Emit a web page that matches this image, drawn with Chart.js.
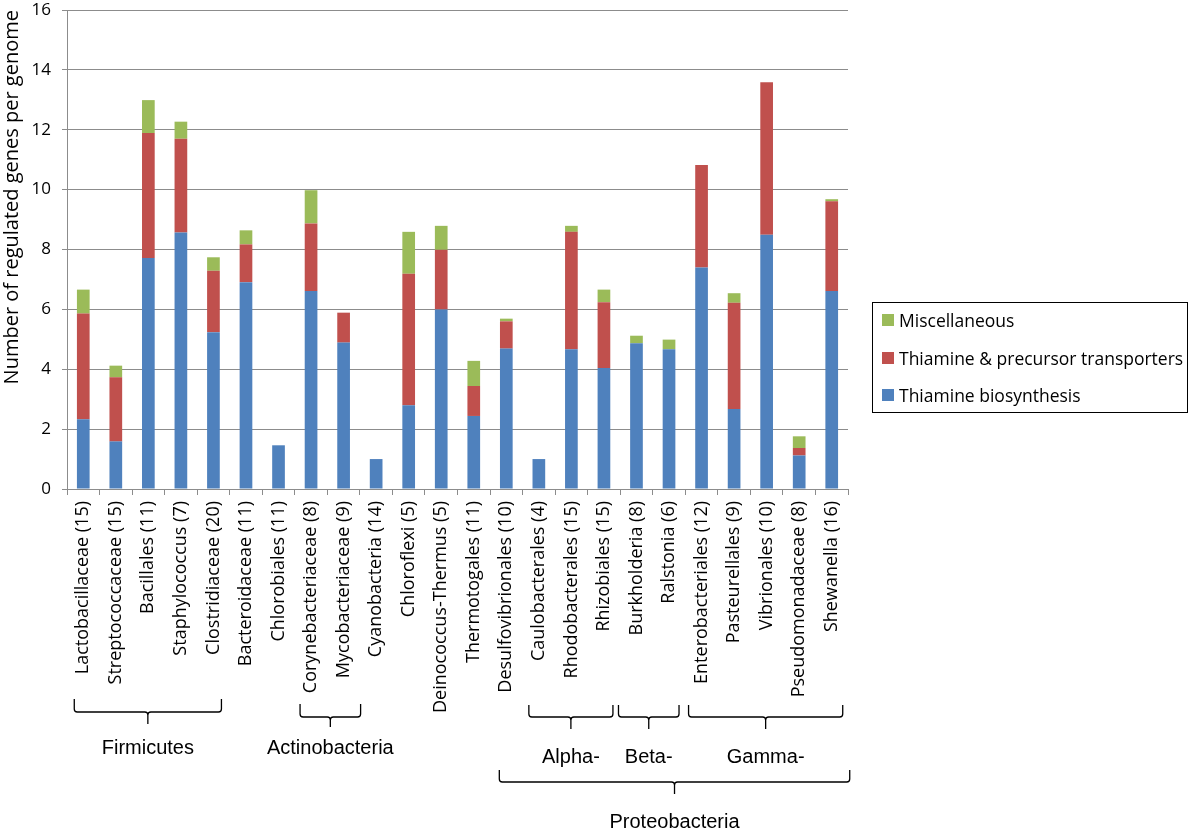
<!DOCTYPE html>
<html>
<head>
<meta charset="utf-8">
<script src="https://cdn.jsdelivr.net/npm/chart.js@4.4.0/dist/chart.umd.min.js"></script>
<style>
  body { margin: 0; background: #fff; }
  #wrap { position: relative; width: 1200px; height: 832px; }
  #legend {
    position: absolute; left: 872px; top: 302px; width: 316px; height: 111px;
    border: 1px solid #000; font-family: "Open Sans", sans-serif; font-size: 17.5px; color: #000;
    box-sizing: border-box;
  }
  #legend .item { position: absolute; left: 9px; display: flex; align-items: center; white-space: nowrap; }
  #legend .sw { width: 12px; height: 12px; margin-right: 5px; }
</style>
</head>
<body>
<div id="wrap">
  <canvas id="chart" width="1200" height="832"></canvas>
  <div id="legend"></div>
</div>
<script>
const categories = [
  'Lactobacillaceae (15)', 'Streptococcaceae (15)', 'Bacillales (11)', 'Staphylococcus (7)',
  'Clostridiaceae (20)', 'Bacteroidaceae (11)', 'Chlorobiales (11)', 'Corynebacteriaceae (8)',
  'Mycobacteriaceae (9)', 'Cyanobacteria (14)', 'Chloroflexi (5)', 'Deinococcus-Thermus (5)',
  'Thermotogales (11)', 'Desulfovibrionales (10)', 'Caulobacterales (4)', 'Rhodobacterales (15)',
  'Rhizobiales (15)', 'Burkholderia (8)', 'Ralstonia (6)', 'Enterobacteriales (12)',
  'Pasteurellales (9)', 'Vibrionales (10)', 'Pseudomonadaceae (8)', 'Shewanella (16)'
];

const biosynthesis = [2.33, 1.59, 7.72, 8.57, 5.24, 6.91, 1.46, 6.61, 4.89, 1.0, 2.8, 6.0,
  2.44, 4.69, 1.0, 4.67, 4.04, 4.87, 4.67, 7.4, 2.67, 8.49, 1.12, 6.61];
const transporters = [3.53, 2.14, 4.17, 3.13, 2.05, 1.26, 0, 2.26, 1.0, 0, 4.39, 1.99,
  1.0, 0.91, 0, 3.92, 2.2, 0, 0, 3.42, 3.55, 5.1, 0.25, 3.0];
const miscellaneous = [0.8, 0.39, 1.1, 0.57, 0.45, 0.47, 0, 1.11, 0, 0, 1.4, 0.8,
  0.84, 0.09, 0, 0.2, 0.42, 0.25, 0.32, 0, 0.32, 0, 0.39, 0.07];

const yTicks = [0, 2, 4, 6, 8, 10, 12, 14, 16];

// taxonomic groups shown with braces under the category labels
const groupNames = ['Firmicutes', 'Actinobacteria', 'Alpha-', 'Beta-', 'Gamma-', 'Proteobacteria'];
const groupFirst = [0, 7, 14, 17, 19, 13];
const groupLast = [4, 8, 16, 18, 23, 23];

const colors = { bio: '#4F81BD', trans: '#C0504D', misc: '#9BBB59' };
const gridColor = '#8C8C8C';
const labelFont = '"Open Sans"';

// brace geometry: [padLeft, padRight, top, bar, tip, textY]
const braceStyle = [
  [9, 8, 699, 712, 724, 748],
  [11, 17, 704, 717, 727, 748],
  [10, 9, 705, 717, 729, 757],
  [18, 10, 705, 717, 729, 757],
  [13, 11, 705, 717, 729, 757],
  [7, 18, 770, 782, 794, 822]
];

const bracesPlugin = {
  id: 'braces',
  afterDraw(chart) {
    const ctx = chart.ctx;
    const x = chart.scales.x;
    ctx.save();
    ctx.strokeStyle = '#000';
    ctx.lineWidth = 1.3;
    ctx.fillStyle = '#000';
    ctx.font = '20px "Liberation Sans", Arial, sans-serif';
    ctx.textAlign = 'center';
    ctx.textBaseline = 'middle';
    groupNames.forEach((name, i) => {
      const s = braceStyle[i];
      const x0 = x.getPixelForValue(groupFirst[i]) - s[0];
      const x1 = x.getPixelForValue(groupLast[i]) + s[1];
      const xm = (x0 + x1) / 2;
      const r = 3;
      ctx.beginPath();
      ctx.moveTo(x0, s[2]);
      ctx.lineTo(x0, s[3] - r);
      ctx.quadraticCurveTo(x0, s[3], x0 + r, s[3]);
      ctx.lineTo(xm - r, s[3]);
      ctx.quadraticCurveTo(xm, s[3], xm, s[3] + r);
      ctx.lineTo(xm, s[4]);
      ctx.moveTo(xm, s[3] + r);
      ctx.quadraticCurveTo(xm, s[3], xm + r, s[3]);
      ctx.lineTo(x1 - r, s[3]);
      ctx.quadraticCurveTo(x1, s[3], x1, s[3] - r);
      ctx.lineTo(x1, s[2]);
      ctx.stroke();
      ctx.fillText(name, xm, s[5]);
    });
    ctx.restore();
  }
};

const datasets = [
  { label: 'Thiamine biosynthesis', data: biosynthesis, backgroundColor: colors.bio },
  { label: 'Thiamine & precursor transporters', data: transporters, backgroundColor: colors.trans },
  { label: 'Miscellaneous', data: miscellaneous, backgroundColor: colors.misc }
];

const chart = new Chart(document.getElementById('chart'), {
  type: 'bar',
  data: {
    labels: categories,
    datasets: datasets.map(d => Object.assign({}, d, {
      barPercentage: 0.39,
      categoryPercentage: 1.0,
      borderWidth: 0
    }))
  },
  options: {
    responsive: false,
    animation: false,
    layout: { padding: { top: 10, right: 352, left: 0, bottom: 0 } },
    plugins: { legend: { display: false }, tooltip: { enabled: false } },
    scales: {
      x: {
        stacked: true,
        offset: true,
        afterFit(scale) { scale.height = 343; },
        grid: {
          offset: true, drawOnChartArea: false, drawTicks: true,
          tickLength: 6, color: gridColor
        },
        border: { color: gridColor, width: 1 },
        ticks: {
          minRotation: 90, maxRotation: 90, autoSkip: false, padding: 6,
          color: '#000', font: { family: labelFont, size: 18 }
        }
      },
      y: {
        stacked: true,
        min: 0, max: 16,
        afterFit(scale) {
          scale.width = 67;
          scale.paddingTop = 0;
          scale.paddingBottom = 0;
        },
        afterBuildTicks(scale) { scale.ticks = yTicks.map(v => ({ value: v })); },
        grid: { color: gridColor, tickLength: 5, lineWidth: 1 },
        border: { color: gridColor, width: 1 },
        ticks: { padding: 11, color: '#000', font: { family: labelFont, size: 17 } },
        title: {
          display: true, align: 'end', text: 'Number of regulated genes per genome',
          color: '#000', font: { family: labelFont, size: 20 }, padding: { top: 0, bottom: 0 }
        }
      }
    }
  },
  plugins: [bracesPlugin]
});

// legend, top to bottom in reverse stacking order
const legend = document.getElementById('legend');
datasets.slice().reverse().forEach((d, i) => {
  const item = document.createElement('div');
  item.className = 'item';
  item.style.top = (5 + i * 37.5) + 'px';
  item.innerHTML = '<span class="sw" style="background:' + d.backgroundColor + '"></span>' + d.label;
  legend.appendChild(item);
});
</script>
</body>
</html>
